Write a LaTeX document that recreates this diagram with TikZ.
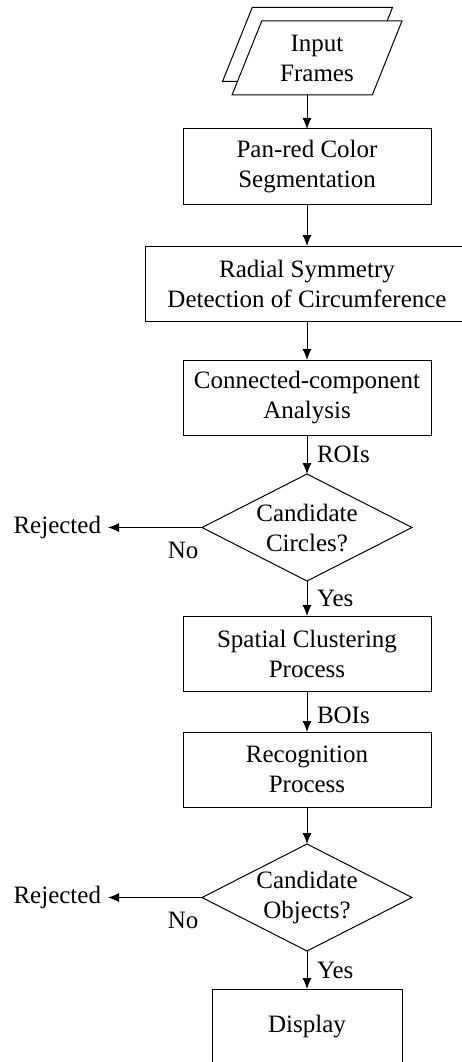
\documentclass[tikz,border=0pt]{standalone}
\usepackage{fontspec}
\setmainfont{Liberation Serif}
\usepackage{tikz}
\usetikzlibrary{positioning}
\usetikzlibrary{shapes.geometric,arrows.meta}

\tikzset{
  stepbox/.style={draw, minimum height=75pt, minimum width=248pt, align=center, inner sep=0pt},
  decision/.style={draw, diamond, aspect=2, inner sep=0pt, minimum width=210pt, minimum height=107pt, align=center},
  iobox/.style={draw, fill=white, trapezium, trapezium left angle=67, trapezium right angle=113, trapezium stretches=true, minimum width=170pt, minimum height=74pt, align=center, inner sep=0pt},
  lbl/.style={inner sep=2pt},
  rejnode/.style={inner sep=7pt},
}

\begin{document}
\begin{tikzpicture}[x=1pt,y=1pt,node distance=39pt,line width=1pt,>={Latex[length=11pt,width=9pt]},every node/.style={outer sep=0pt,font=\fontsize{25pt}{30pt}\selectfont}]
	\useasboundingbox (0,0) rectangle (462,-1062);
	\node[stepbox] (seg) at (307,-166.5) {Pan-red Color\\Segmentation};
	\node[iobox] (framesbk) at (307.5,-44.5) {\phantom{Input}\\\phantom{Frames}};
	\node[iobox] (frames) at (317,-58) {Input\\Frames};
	\node[stepbox, minimum width=324pt] (radial) [below=42pt of seg] {Radial Symmetry\\Detection of Circumference};
	\node[stepbox] (conn) [below=of radial] {Connected-component\\Analysis};
	\node[decision] (circ) [below=of conn] {Candidate\\Circles?};
	\node[stepbox] (clus) [below=35pt of circ] {Spatial Clustering\\Process};
	\node[stepbox] (rec) [below=41pt of clus] {Recognition\\Process};
	\node[decision] (obj) [below=37pt of rec] {Candidate\\Objects?};
	\node[stepbox, minimum width=190pt] (disp) [below=38pt of obj] {Display};
	\node[rejnode] (rej1) [left=94pt of circ] {Rejected};
	\node[rejnode] (rej2) [left=94pt of obj] {Rejected};
    \path[->]
        (frames.south -| seg.north) edge (seg)
        (seg) edge (radial)
        (radial) edge (conn)
        (conn) edge node[lbl, right=8pt] {ROIs} (circ)
        (circ) edge node[lbl, right=8pt] {Yes} (clus)
        (circ) edge node[lbl, below=13pt, pos=0.2] {No} (rej1)
        (clus) edge node[lbl, right=8pt, pos=0.6] {BOIs} (rec)
        (rec) edge (obj)
        (obj) edge node[lbl, right=8pt] {Yes} (disp)
        (obj) edge node[lbl, below=13pt, pos=0.2] {No} (rej2);
\end{tikzpicture}
\end{document}
